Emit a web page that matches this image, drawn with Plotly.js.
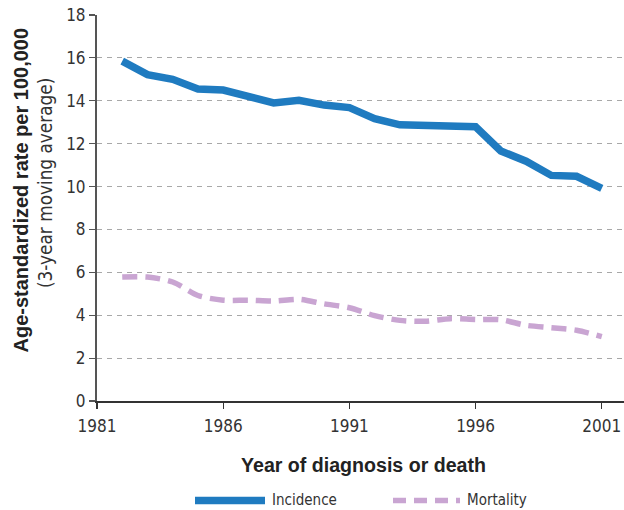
<!DOCTYPE html>
<html>
<head>
<meta charset="utf-8">
<script src="https://cdn.plot.ly/plotly-3.0.1.min.js"></script>
<style>html,body{margin:0;padding:0;background:#fff;}#chart{width:624px;height:510px;}</style>
</head>
<body>
<div id="chart"></div>
<script>
const years = [1982,1983,1984,1985,1986,1987,1988,1989,1990,1991,1992,1993,1994,1995,1996,1997,1998,1999,2000,2001];
const incidence = [15.85,15.22,15.0,14.55,14.5,14.2,13.9,14.02,13.8,13.68,13.17,12.88,12.86,12.83,12.79,11.66,11.18,10.52,10.48,9.92];
const mortality = [5.78,5.78,5.55,4.92,4.7,4.7,4.66,4.74,4.53,4.35,3.98,3.76,3.72,3.84,3.8,3.79,3.53,3.42,3.3,3.0];
const xTicks = [1981,1986,1991,1996,2001];
const yTicks = [0,2,4,6,8,10,12,14,16,18];
const seriesNames = ["Incidence","Mortality"];
const yTitle = "Age-standardized rate per 100,000";
const ySubTitle = "(3-year moving average)";
const xTitle = "Year of diagnosis or death";

const blue = "#1f7bc0";
const purple = "#c9a5d2";
const condensed = "'DejaVu Sans Condensed', 'Liberation Sans Narrow', sans-serif";
const regular = "'Liberation Sans', Arial, sans-serif";

const W = 624, H = 510, L = 97, R = 0, T = 15, B = 109;
const pw = W - L - R, ph = H - T - B;
const px = v => (v - L) / pw;
const py = v => (H - B - v) / ph;

const traces = [
  {x: years, y: incidence, name: seriesNames[0], mode: "lines", type: "scatter",
   line: {color: blue, width: 7.5, shape: "linear"}, showlegend: false, hoverinfo: "skip"},
  {x: years, y: mortality, name: seriesNames[1], mode: "lines", type: "scatter",
   line: {color: purple, width: 5.5, dash: "15px,8px", shape: "spline", smoothing: 0.8}, showlegend: false, hoverinfo: "skip"}
];

const layout = {
  width: W, height: H,
  margin: {l: L, r: R, t: T, b: B, pad: 0},
  paper_bgcolor: "#fff", plot_bgcolor: "#fff",
  showlegend: false,
  xaxis: {
    range: [1981, 2001.88], tickvals: xTicks, ticktext: xTicks.map(String),
    showgrid: false, zeroline: false, showline: true, linecolor: "#333", linewidth: 1.5,
    ticks: "outside", ticklen: 6, tickwidth: 1.2, tickcolor: "#333", ticklabelstandoff: 3,
    tickfont: {family: condensed, size: 17, color: "#333"}, fixedrange: true
  },
  yaxis: {
    range: [0, 18], tickvals: yTicks, ticktext: yTicks.map(String),
    showgrid: true, gridcolor: "#a8a8a8", gridwidth: 1, griddash: "5px,5px",
    zeroline: false, showline: true, linecolor: "#555", linewidth: 2,
    ticks: "outside", ticklen: 6, tickwidth: 1.2, tickcolor: "#555",
    tickfont: {family: condensed, size: 17, color: "#333"}, fixedrange: true
  },
  annotations: [
    {text: "<b>" + yTitle + "</b>", xref: "paper", yref: "paper", x: px(20.5), y: py(190),
     xanchor: "center", yanchor: "middle", textangle: -90, showarrow: false,
     font: {family: regular, size: 20, color: "#222"}},
    {text: ySubTitle, xref: "paper", yref: "paper", x: px(45), y: py(183),
     xanchor: "center", yanchor: "middle", textangle: -90, showarrow: false,
     font: {family: condensed, size: 18.8, color: "#333"}},
    {text: "<b>" + xTitle + "</b>", xref: "paper", yref: "paper", x: px(363), y: py(465),
     xanchor: "center", yanchor: "middle", showarrow: false,
     font: {family: regular, size: 19.6, color: "#222"}},
    {text: seriesNames[0], xref: "paper", yref: "paper", x: px(270), y: py(500),
     xanchor: "left", yanchor: "middle", showarrow: false,
     font: {family: condensed, size: 15, color: "#333"}},
    {text: seriesNames[1], xref: "paper", yref: "paper", x: px(465), y: py(500),
     xanchor: "left", yanchor: "middle", showarrow: false,
     font: {family: condensed, size: 15, color: "#333"}}
  ],
  shapes: [
    {type: "line", xref: "paper", yref: "paper", x0: px(195), x1: px(265), y0: py(500.5), y1: py(500.5),
     line: {color: blue, width: 7.5}},
    {type: "line", xref: "paper", yref: "paper", x0: px(393), x1: px(460), y0: py(500.5), y1: py(500.5),
     line: {color: purple, width: 5.5, dash: "13px,8px"}}
  ]
};

Plotly.newPlot("chart", traces, layout, {displayModeBar: false, staticPlot: true});
</script>
</body>
</html>
